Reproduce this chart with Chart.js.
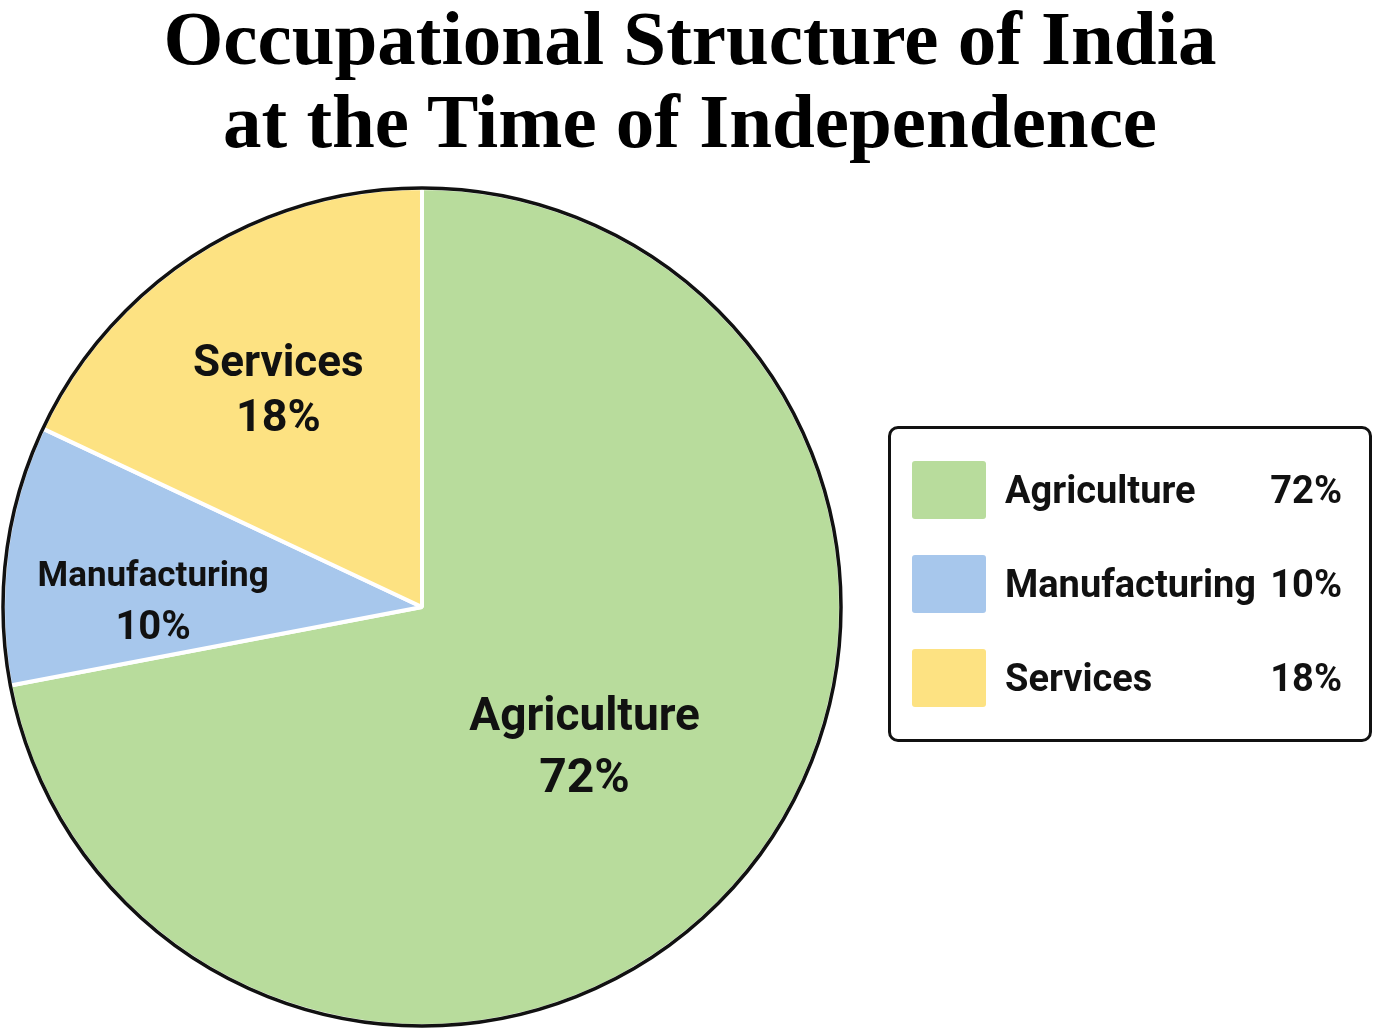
<!DOCTYPE html>
<html>
<head>
<meta charset="utf-8">
<script src="https://cdn.jsdelivr.net/npm/chart.js@4"></script>
<style>
  html, body { margin: 0; padding: 0; background: #fff; }
  #wrap { position: relative; width: 1380px; height: 1036px; overflow: hidden; background: #fff; }
  #c { position: absolute; left: 0; top: 0; }
  #title { position: absolute; left: 0; top: -3px; width: 1380px; text-align: center;
           font: bold 77px/83px "Liberation Serif", "Times New Roman", serif; color: #000; }
  #legendBox { position: absolute; left: 888px; top: 426px; width: 484px; height: 316px;
               border: 3px solid #111; border-radius: 10px; box-sizing: border-box; }
  .row { position: absolute; left: 912px; width: 430px; height: 58px; display: flex; align-items: center;
         font: bold 38px Roboto, "Liberation Sans", sans-serif; color: #111; }
  .sw { width: 74px; height: 58px; border-radius: 3px; margin-right: 19px; flex: none; }
  .pct { margin-left: auto; }
</style>
</head>
<body>
<div id="wrap">
  <canvas id="c" width="1380" height="1036"></canvas>
  <div id="title">Occupational Structure of India<br>at the Time of Independence</div>
  <div id="legendBox"></div>
  <div id="legendRows"></div>
</div>
<script>
// ---- data ----
const categories = ["Agriculture", "Manufacturing", "Services"];
const shares = [72, 10, 18];
const sliceColors = ["#b8dc9c", "#a7c7ec", "#fde282"];

// ---- legend (HTML, built from data) ----
const rowsEl = document.getElementById('legendRows');
categories.forEach((cat, i) => {
  const row = document.createElement('div');
  row.className = 'row';
  row.style.top = (461 + 94 * i) + 'px';
  const sw = document.createElement('div');
  sw.className = 'sw';
  sw.style.background = sliceColors[i];
  const lab = document.createElement('span');
  lab.textContent = cat;
  const pct = document.createElement('span');
  pct.className = 'pct';
  pct.textContent = shares[i] + '%';
  row.appendChild(sw); row.appendChild(lab); row.appendChild(pct);
  rowsEl.appendChild(row);
});

// ---- slice label style (per slice: radial fraction, angle nudge deg, name font px, value font px, line gap px) ----
const labelStyle = [
  { frac: 0.508, nudge: 0.6, size: 46, vsize: 48, gap: 61 },
  { frac: 0.642, nudge: -5.5, size: 35, vsize: 40, gap: 51 },
  { frac: 0.626, nudge: -0.8, size: 44, vsize: 45, gap: 55 }
];

const sliceLabels = {
  id: 'sliceLabels',
  afterDatasetsDraw(chart) {
    const ctx = chart.ctx;
    const meta = chart.getDatasetMeta(0);
    // outer black rim
    const a0 = meta.data[0].getProps(['x', 'y', 'outerRadius'], true);
    ctx.save();
    ctx.beginPath();
    ctx.arc(a0.x, a0.y, a0.outerRadius, 0, Math.PI * 2);
    ctx.lineWidth = 3.5;
    ctx.strokeStyle = '#111';
    ctx.stroke();
    // labels
    meta.data.forEach((arc, i) => {
      const p = arc.getProps(['x', 'y', 'startAngle', 'endAngle', 'outerRadius'], true);
      const st = labelStyle[i];
      const mid = (p.startAngle + p.endAngle) / 2 + st.nudge * Math.PI / 180;
      const cx = p.x + Math.cos(mid) * p.outerRadius * st.frac;
      const cy = p.y + Math.sin(mid) * p.outerRadius * st.frac;
      ctx.fillStyle = '#111';
      ctx.textAlign = 'center';
      ctx.textBaseline = 'alphabetic';
      ctx.font = 'bold ' + st.size + 'px Roboto, "Liberation Sans", sans-serif';
      ctx.fillText(categories[i], cx, cy - st.gap / 2 + st.size * 0.355);
      ctx.font = 'bold ' + st.vsize + 'px Roboto, "Liberation Sans", sans-serif';
      ctx.fillText(shares[i] + '%', cx, cy + st.gap / 2 + st.vsize * 0.355);
    });
    ctx.restore();
  }
};

new Chart(document.getElementById('c'), {
  type: 'pie',
  data: {
    labels: categories,
    datasets: [{
      data: shares,
      backgroundColor: sliceColors,
      borderColor: '#ffffff',
      borderWidth: 4,
      hoverBorderWidth: 4,
      hoverBackgroundColor: sliceColors
    }]
  },
  options: {
    responsive: false,
    animation: false,
    events: [],
    layout: { padding: { left: 1, top: 186, right: 537, bottom: 8 } },
    plugins: {
      legend: { display: false },
      tooltip: { enabled: false },
      title: { display: false }
    }
  },
  plugins: [sliceLabels]
});
</script>
</body>
</html>
